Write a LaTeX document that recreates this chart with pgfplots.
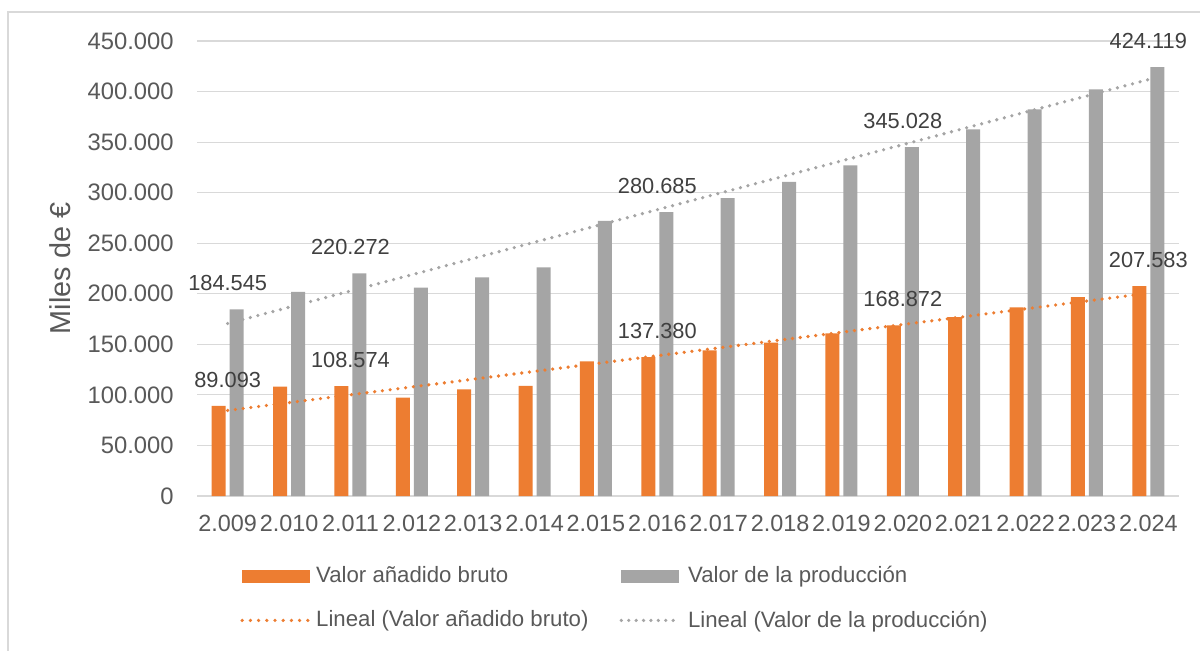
\documentclass[border=0pt]{standalone}
\usepackage{pgfplots}
\pgfplotsset{compat=1.18}
\usepackage{fontspec}
\setmainfont{Liberation Sans}
\definecolor{vab}{HTML}{ED7D31}
\definecolor{vp}{HTML}{A5A5A5}
\definecolor{gridc}{HTML}{D9D9D9}
\definecolor{tickc}{HTML}{595959}
\definecolor{labc}{HTML}{404040}
\begin{document}
\begin{tikzpicture}
\useasboundingbox (0,0) rectangle (600pt,325pt);
\fill[white] (0,0) rectangle (600pt,325pt);
\draw[gridc, line width=0.6pt] (4pt,-5pt) -- (4pt,319pt) -- (605pt,319pt);
\begin{axis}[
  at={(98.5pt,77pt)}, anchor=south west,
  scale only axis, width=491pt, height=227.5pt,
  xmin=-0.5, xmax=15.5, ymin=0, ymax=450000,
  clip=false,
  axis lines*=left,
  y axis line style={draw=none},
  x axis line style={draw=gridc, line width=0.75pt},
  major tick length=0pt,
  tick style={draw=none},
  ymajorgrids, grid style={gridc, line width=0.6pt},
  xtick={0,...,15},
  xticklabels={2.009,2.010,2.011,2.012,2.013,2.014,2.015,2.016,2.017,2.018,2.019,2.020,2.021,2.022,2.023,2.024},
  ytick={0,50000,...,450000},
  scaled y ticks=false,
  /pgf/number format/fixed,
  /pgf/number format/precision=0,
  /pgf/number format/1000 sep={.},
  /pgf/number format/assume math mode=true,
  yticklabel style={font=\fontsize{11.9}{14}\selectfont, text=tickc, inner sep=0pt, xshift=-11.5pt},
  xticklabel style={font=\fontsize{11.7}{14}\selectfont, text=tickc, inner sep=0pt, yshift=-9.5pt},
  ylabel={Miles de €},
  ylabel style={at={(axis description cs:-0.1395,0.5)}, anchor=center, font=\fontsize{14.4}{17}\selectfont, text=tickc},
  legend columns=2,
  legend cell align=left,
  legend style={at={(axis description cs:0.0438,0)}, anchor=north west, yshift=-35pt,
    draw=none, fill=none, inner sep=0pt,
    font=\fontsize{11.1}{13}\selectfont,
    nodes={inner sep=0pt, text=tickc},
    column sep=3pt, row sep=12.5pt,
    /tikz/every even column/.append style={column sep=15.5pt}},
]
\addplot[ybar, bar width=7pt, bar shift=-4.5pt, fill=vab, draw=none,
  nodes near coords, point meta=explicit symbolic,
  every node near coord/.style={anchor=south, inner sep=0pt, yshift=9pt, font=\fontsize{10.9}{13}\selectfont, text=labc},
  legend image code/.code={\fill[vab] (0pt,-3.25pt) rectangle (34pt,3.25pt);}]
coordinates {
(0,89093) [89.093]
(1,108100) []
(2,108574) [108.574]
(3,97200) []
(4,105500) []
(5,109000) []
(6,133200) []
(7,137380) [137.380]
(8,144100) []
(9,151600) []
(10,160900) []
(11,168872) [168.872]
(12,177000) []
(13,186600) []
(14,196800) []
(15,207583) [207.583]
};
\addplot[ybar, bar width=7pt, bar shift=4.5pt, fill=vp, draw=none,
  nodes near coords, point meta=explicit symbolic,
  every node near coord/.style={anchor=south, inner sep=0pt, yshift=9pt, font=\fontsize{10.9}{13}\selectfont, text=labc},
  legend image code/.code={\fill[vp] (0pt,-3.25pt) rectangle (29pt,3.25pt);}]
coordinates {
(0,184545) [184.545]
(1,201800) []
(2,220272) [220.272]
(3,206000) []
(4,216300) []
(5,226200) []
(6,272000) []
(7,280685) [280.685]
(8,294700) []
(9,310600) []
(10,327000) []
(11,345028) [345.028]
(12,362700) []
(13,382400) []
(14,402200) []
(15,424119) [424.119]
};
\addplot[vab, line width=1.8pt, dash pattern=on 0pt off 3.9pt, line cap=round, sharp plot, no marks,
  legend image code/.code={\draw[vab, line width=1.8pt, dash pattern=on 0pt off 4.1pt, line cap=round] (0pt,0pt) -- (33pt,0pt);}]
coordinates {(0,84600) (15,200600)};
\addplot[vp, line width=1.8pt, dash pattern=on 0pt off 3.9pt, line cap=round, sharp plot, no marks,
  legend image code/.code={\draw[vp, line width=1.8pt, dash pattern=on 0pt off 3.7pt, line cap=round] (0pt,0pt) -- (29.5pt,0pt);}]
coordinates {(0,170600) (15,411800)};
\legend{Valor añadido bruto, Valor de la producción, Lineal (Valor añadido bruto), Lineal (Valor de la producción)}
\end{axis}
\end{tikzpicture}
\end{document}
